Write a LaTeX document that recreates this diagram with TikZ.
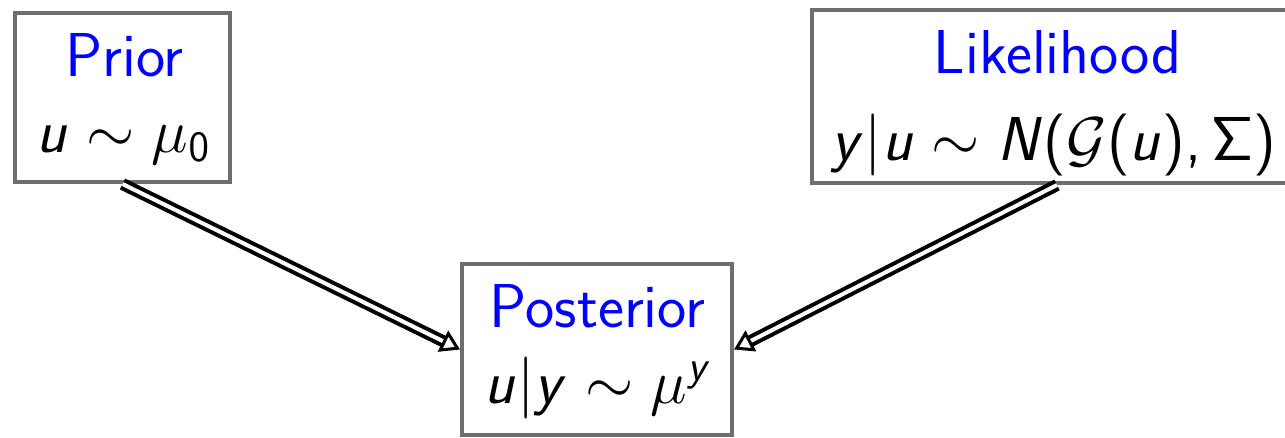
\documentclass[tikz,border=0pt]{standalone}
\usepackage{fix-cm}
\usetikzlibrary{arrows.meta}
\DeclareSymbolFont{sansops}{OT1}{cmss}{m}{n}
\DeclareSymbolFont{sanslet}{OT1}{cmss}{m}{sl}
\DeclareMathSymbol{u}{\mathalpha}{sanslet}{`u}
\DeclareMathSymbol{y}{\mathalpha}{sanslet}{`y}
\DeclareMathSymbol{N}{\mathalpha}{sanslet}{`N}
\DeclareMathSymbol{0}{\mathalpha}{sansops}{`0}
\DeclareMathSymbol{,}{\mathpunct}{sansops}{`,}
\DeclareMathSymbol{\Sigma}{\mathalpha}{sansops}{"06}
\DeclareMathDelimiter{(}{\mathopen}{sansops}{"28}{largesymbols}{"00}
\DeclareMathDelimiter{)}{\mathclose}{sansops}{"29}{largesymbols}{"01}
\definecolor{boxgray}{RGB}{110,110,110}
\definecolor{titleblue}{RGB}{0,0,255}
\begin{document}
\begin{tikzpicture}[x=1pt,y=-1pt,
  box/.style={draw=boxgray, line width=4pt, rectangle, inner sep=0pt, fill=white},
  txt/.style={anchor=base, inner sep=0pt, font=\fontsize{62}{74}\selectfont\sffamily},
  ttl/.style={txt, text=titleblue},
  dbl/.style={double=white, line width=4pt, double distance=4pt,
    -{Triangle[open, length=19pt, width=23pt, line width=3pt]}}]
\useasboundingbox (0,0) rectangle (1285,437);
\node[box, minimum width=215pt, minimum height=169pt] (prior) at (122.5,97.5) {};
\node[box, minimum width=270pt, minimum height=171pt] (post) at (597,349.5) {};
\node[box, minimum width=490pt, minimum height=173pt] (lik) at (1057,96.5) {};
\node[ttl] (priorT) at (124.5,76) {Prior};
\node[txt] (priorM) at (123,152) {$u\sim\mu_0$};
\node[ttl] (postT) at (597.5,327) {Posterior};
\node[txt] (postM) at (598,403) {$u|y\sim\mu^y$};
\node[ttl] (likT) at (1057.5,73) {Likelihood};
\node[txt] (likM) at (1054,160) {$y|u\sim N(\mathcal{G}(u),\Sigma)$};
\draw[dbl] (prior.south) -- (post.west);
\draw[dbl] (lik.south) -- (post.east);
\end{tikzpicture}
\end{document}
